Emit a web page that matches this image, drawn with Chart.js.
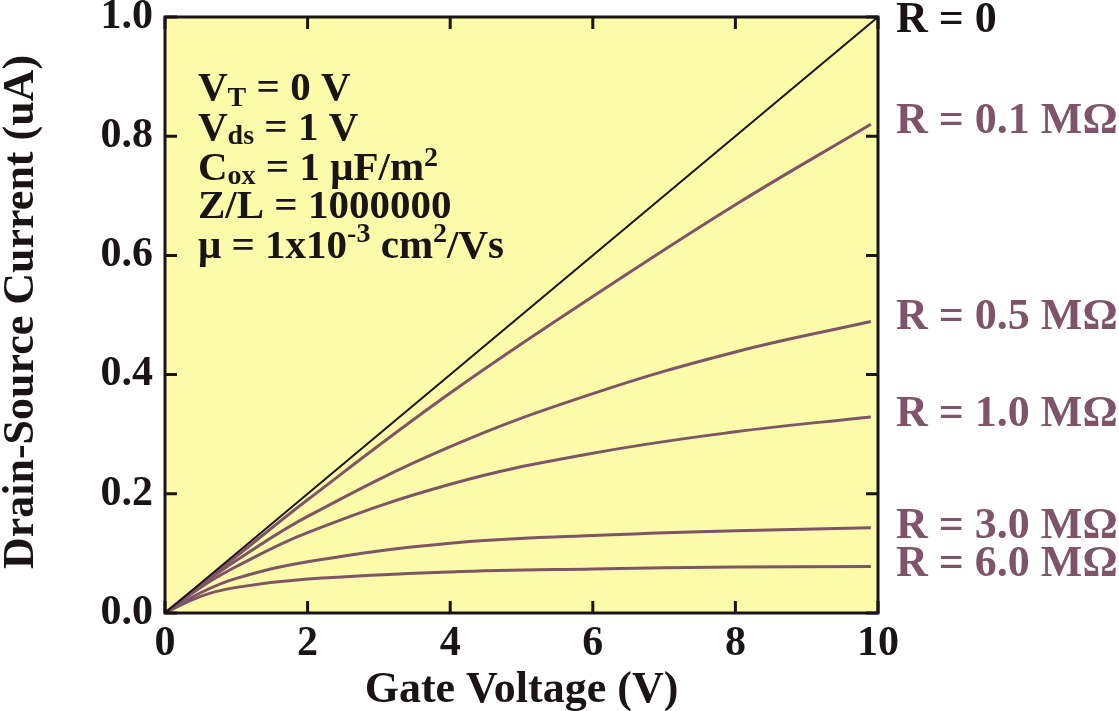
<!DOCTYPE html>
<html>
<head>
<meta charset="utf-8">
<script src="https://cdn.jsdelivr.net/npm/chart.js@4"></script>
<style>
  html, body { margin: 0; padding: 0; background: #fff; }
  #wrap { width: 1119px; height: 711px; }
</style>
</head>
<body>
<div id="wrap"><canvas id="mosChart" width="1119" height="711"></canvas></div>
<script>
// values
const gateVoltage = [0, 0.5, 1, 2, 4, 6, 8, 9.9];
const idealVoltage = [0, 10];
const idealCurrent = [0, 1.0];
const currentR01 = [0, 0.048, 0.095, 0.19, 0.369, 0.531, 0.685, 0.82];
const currentR05 = [0, 0.046, 0.088, 0.162, 0.279, 0.368, 0.438, 0.489];
const currentR10 = [0, 0.043, 0.078, 0.135, 0.216, 0.268, 0.304, 0.329];
const currentR30 = [0, 0.034, 0.058, 0.086, 0.117, 0.130, 0.138, 0.143];
const currentR60 = [0, 0.028, 0.043, 0.057, 0.069, 0.074, 0.077, 0.078];

const seriesLabels = ['R = 0', 'R = 0.1 MΩ', 'R = 0.5 MΩ', 'R = 1.0 MΩ', 'R = 3.0 MΩ', 'R = 6.0 MΩ'];
const labelY = [21, 122, 318, 415, 527, 565];
const xTickLabels = ['0', '2', '4', '6', '8', '10'];
const yTickLabels = ['0.0', '0.2', '0.4', '0.6', '0.8', '1.0'];

const PURPLE = '#7f5468';
const BLACK = '#1a1414';
const SERIF = '"Liberation Serif", "Times New Roman", serif';

function toPoints(xs, ys) {
    return xs.map((x, i) => ({ x: x, y: ys[i] }));
}

function curve(data, color, width) {
    return {
        data: data,
        borderColor: color,
        borderWidth: width,
        pointRadius: 0,
        fill: false,
        tension: 0.4
    };
}

function drawRuns(ctx, x, y, runs, color) {
    ctx.fillStyle = color;
    ctx.textBaseline = 'alphabetic';
    ctx.textAlign = 'left';
    runs.forEach(r => {
        ctx.font = 'bold ' + r.s + 'px ' + SERIF;
        ctx.fillText(r.t, x, y + (r.dy || 0));
        x += ctx.measureText(r.t).width;
    });
}

const framePlugin = {
    id: 'frame',
    beforeDatasetsDraw(chart) {
        const a = chart.chartArea, ctx = chart.ctx;
        ctx.save();
        ctx.fillStyle = 'rgb(252,251,170)';
        ctx.fillRect(a.left, a.top, a.right - a.left, a.bottom - a.top);
        ctx.restore();
    },
    afterDatasetsDraw(chart) {
        const a = chart.chartArea, ctx = chart.ctx;
        const xs = chart.scales.x, ys = chart.scales.y;
        ctx.save();
        ctx.strokeStyle = BLACK;
        ctx.lineWidth = 3;
        ctx.strokeRect(a.left, a.top, a.right - a.left, a.bottom - a.top);
        ctx.beginPath();
        for (let v = 0; v <= 10; v += 2) {
            const px = xs.getPixelForValue(v);
            ctx.moveTo(px, a.bottom); ctx.lineTo(px, a.bottom - 12);
            ctx.moveTo(px, a.top); ctx.lineTo(px, a.top + 12);
        }
        for (let v = 0; v <= 1.0001; v += 0.2) {
            const py = ys.getPixelForValue(v);
            ctx.moveTo(a.left, py); ctx.lineTo(a.left + 12, py);
            ctx.moveTo(a.right, py); ctx.lineTo(a.right - 12, py);
        }
        ctx.stroke();

        // parameter block
        const big = 41, small = 28;
        const x0 = 198;
        drawRuns(ctx, x0, 100, [{ t: 'V', s: big }, { t: 'T', s: small, dy: 6 }, { t: ' = 0 V', s: big }], BLACK);
        drawRuns(ctx, x0, 140, [{ t: 'V', s: big }, { t: 'ds', s: small, dy: 4 }, { t: ' = 1 V', s: big }], BLACK);
        drawRuns(ctx, x0, 180, [{ t: 'C', s: big }, { t: 'ox', s: small, dy: 4 }, { t: ' = 1 μF/m', s: big }, { t: '2', s: small, dy: -14 }], BLACK);
        drawRuns(ctx, x0, 218, [{ t: 'Z/L = 1000000', s: big }], BLACK);
        drawRuns(ctx, x0, 258, [{ t: 'μ = 1x10', s: big }, { t: '-3', s: small, dy: -16 }, { t: ' cm', s: big }, { t: '2', s: small, dy: -16 }, { t: '/Vs', s: big }], BLACK);

        // curve labels on the right
        ctx.font = 'bold 44px ' + SERIF;
        ctx.textBaseline = 'middle';
        ctx.textAlign = 'left';
        seriesLabels.forEach((lab, i) => {
            ctx.fillStyle = i === 0 ? BLACK : PURPLE;
            ctx.fillText(lab, 896, labelY[i]);
        });

        // axis titles
        ctx.fillStyle = BLACK;
        ctx.font = 'bold 44px ' + SERIF;
        ctx.textAlign = 'center';
        ctx.textBaseline = 'alphabetic';
        ctx.fillText('Gate Voltage (V)', (a.left + a.right) / 2, 702);
        ctx.translate(22, 312);
        ctx.rotate(-Math.PI / 2);
        ctx.textBaseline = 'middle';
        ctx.fillText('Drain-Source Current (uA)', 0, 0);
        ctx.restore();
    }
};

const ctx = document.getElementById('mosChart').getContext('2d');
new Chart(ctx, {
    type: 'line',
    data: {
        datasets: [
            curve(toPoints(idealVoltage, idealCurrent), BLACK, 2),
            curve(toPoints(gateVoltage, currentR01), PURPLE, 3),
            curve(toPoints(gateVoltage, currentR05), PURPLE, 3),
            curve(toPoints(gateVoltage, currentR10), PURPLE, 3),
            curve(toPoints(gateVoltage, currentR30), PURPLE, 3),
            curve(toPoints(gateVoltage, currentR60), PURPLE, 3)
        ]
    },
    options: {
        responsive: false,
        animation: false,
        layout: { padding: { left: 0, right: 241, top: 17, bottom: 0 } },
        plugins: { legend: { display: false }, tooltip: { enabled: false } },
        scales: {
            x: {
                type: 'linear',
                min: 0, max: 10,
                grid: { display: false, drawTicks: false },
                border: { display: false },
                afterFit(scale) {
                    scale.height = 98;
                    scale.paddingLeft = 0;
                    scale.paddingRight = 0;
                },
                ticks: {
                    stepSize: 2,
                    padding: 6,
                    maxRotation: 0,
                    color: BLACK,
                    font: { family: SERIF, size: 42, weight: 'bold' },
                    callback: (v) => xTickLabels[Math.round(v / 2)]
                }
            },
            y: {
                min: 0, max: 1.0,
                grid: { display: false, drawTicks: false },
                border: { display: false },
                afterFit(scale) {
                    scale.width = 165;
                    scale.paddingTop = 0;
                    scale.paddingBottom = 0;
                },
                ticks: {
                    stepSize: 0.2,
                    padding: 12,
                    color: BLACK,
                    font: { family: SERIF, size: 42, weight: 'bold' },
                    callback: (v) => yTickLabels[Math.round(v / 0.2)]
                }
            }
        }
    },
    plugins: [framePlugin]
});
</script>
</body>
</html>
